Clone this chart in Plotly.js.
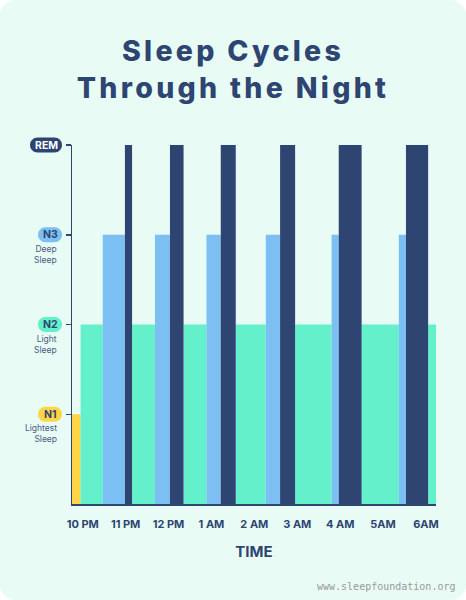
<!DOCTYPE html>
<html>
<head>
<meta charset="utf-8">
<script src="https://cdn.plot.ly/plotly-3.0.1.min.js"></script>
<style>
  html, body { margin: 0; padding: 0; background: #ffffff; }
  #card { width: 466px; height: 600px; border-radius: 16px; overflow: hidden; background: #e8fcf5; }
  #myChart .gtitle { letter-spacing: 3.3px; }
</style>
</head>
<body>
<div id="card"><div id="myChart"></div></div>
<script>
// sleep stages, in the order they happen through the night
const stages = ["N1", "N2", "N3", "REM", "N2", "N3", "REM", "N2", "N3", "REM",
  "N2", "N3", "REM", "N2", "N3", "REM", "N2", "N3", "REM", "N2"];
// minutes after 10 PM when each stage starts
const startMin = [-15, -3, 28, 59, 69, 101, 122, 141, 173, 193,
  214, 256, 276, 297, 348, 358, 390, 442, 452, 483];
const endMin = 494;

const stageNames = ["N1", "N2", "N3", "REM"];
const stageLevel = [1, 2, 3, 4];
const stageSub = ["Lightest<br>Sleep", "Light<br>Sleep", "Deep<br>Sleep", ""];

const timeTicks = [0, 60, 120, 180, 240, 300, 360, 420, 480];
const timeLabels = ["10 PM", "11 PM", "12 PM", "1 AM", "2 AM", "3 AM", "4 AM", "5AM", "6AM"];

const colors = { N1: "#fed546", N2: "#64f0ca", N3: "#7cbff2", REM: "#2e4471" };
const navy = "#2e4471";

// one bar trace per stage
var data = stageNames.map((name, k) => {
  var xs = [], ws = [], ys = [];
  for (let i = 0; i < stages.length; i++) {
    if (stages[i] !== name) continue;
    var end = i + 1 < startMin.length ? startMin[i + 1] : endMin;
    xs.push((startMin[i] + end) / 2);
    ws.push(end - startMin[i]);
    ys.push(stageLevel[k]);
  }
  return {
    type: "bar",
    x: xs,
    y: ys,
    width: ws,
    base: 0,
    name: name,
    marker: { color: colors[name], line: { width: 0 } },
    hoverinfo: "skip",
  };
});

// rounded pill behind each stage name
var pill = (w, h) => {
  var r = h / 2, k = r * 0.552, a = w / 2 - r;
  return "M " + (-a) + "," + (-r) +
    " L " + a + "," + (-r) +
    " C " + (a + k) + "," + (-r) + " " + (a + r) + "," + (-k) + " " + (a + r) + ",0" +
    " C " + (a + r) + "," + k + " " + (a + k) + "," + r + " " + a + "," + r +
    " L " + (-a) + "," + r +
    " C " + (-a - k) + "," + r + " " + (-a - r) + "," + k + " " + (-a - r) + ",0" +
    " C " + (-a - r) + "," + (-k) + " " + (-a - k) + "," + (-r) + " " + (-a) + "," + (-r) + " Z";
};

var L = 72, R = 30, T = 145, B = 96;
var plotW = 466 - L - R, plotH = 600 - T - B;
var px = (p) => (p - L) / plotW;      // page px -> paper x
var py = (p) => (600 - B - p) / plotH; // page px -> paper y

var shapes = [], annotations = [];
stageNames.forEach((name, k) => {
  var yp = stageLevel[k] / 4;
  var w = name === "REM" ? 32 : 24;
  shapes.push({
    type: "path",
    xref: "paper", yref: "paper",
    xsizemode: "pixel", ysizemode: "pixel",
    xanchor: px(62 - w / 2), yanchor: yp,
    path: pill(w, 15),
    fillcolor: colors[name],
    line: { width: 0 },
    layer: "above",
  });
  annotations.push({
    xref: "paper", yref: "paper",
    x: px(62 - w / 2), y: yp,
    xanchor: "center", yanchor: "middle",
    text: "<b>" + name + "</b>",
    showarrow: false,
    font: { family: "Inter, sans-serif", size: 10.5, color: name === "REM" ? "#ffffff" : navy },
  });
  if (stageSub[k]) {
    annotations.push({
      xref: "paper", yref: "paper",
      x: px(59), y: yp,
      xanchor: "right", yanchor: "top", yshift: -7,
      align: "right",
      text: stageSub[k],
      showarrow: false,
      font: { family: "Inter, sans-serif", size: 8.5, color: "#4b5a82" },
    });
  }
});

annotations.push({
  xref: "paper", yref: "paper",
  x: px(457), y: py(586),
  xanchor: "right", yanchor: "middle",
  text: "www.sleepfoundation.org",
  showarrow: false,
  font: { family: "DejaVu Sans Mono, monospace", size: 10, color: "#9a9a9a" },
});

var layout = {
  width: 466,
  height: 600,
  margin: { l: L, r: R, t: T, b: B },
  paper_bgcolor: "#e8fcf5",
  plot_bgcolor: "#e8fcf5",
  showlegend: false,
  barmode: "overlay",
  title: {
    text: "Sleep Cycles<br>Through the Night",
    font: { family: "Inter, sans-serif", size: 28.5, weight: 800, color: navy },
    x: 0.5,
    xref: "container",
    xanchor: "center",
    y: 1 - 61 / 600,
    yref: "container",
    yanchor: "middle",
  },
  xaxis: {
    range: [-15, endMin],
    tickvals: timeTicks,
    ticktext: timeLabels,
    tickfont: { family: "Inter, sans-serif", size: 11, weight: 700, color: navy },
    ticks: "",
    ticklabelstandoff: 9,
    showgrid: false,
    zeroline: false,
    showline: true,
    linecolor: navy,
    linewidth: 1.5,
    fixedrange: true,
    title: {
      text: "<b>TIME</b>",
      font: { family: "Inter, sans-serif", size: 15, color: navy },
      standoff: 17,
    },
  },
  yaxis: {
    range: [0, 4],
    tickvals: stageLevel,
    showticklabels: false,
    ticks: "outside",
    ticklen: 5,
    tickwidth: 1.5,
    tickcolor: navy,
    showgrid: false,
    zeroline: false,
    showline: true,
    linecolor: navy,
    linewidth: 1.5,
    fixedrange: true,
  },
  shapes: shapes,
  annotations: annotations,
};

Plotly.newPlot("myChart", data, layout, { displayModeBar: false, staticPlot: true });
</script>
</body>
</html>
